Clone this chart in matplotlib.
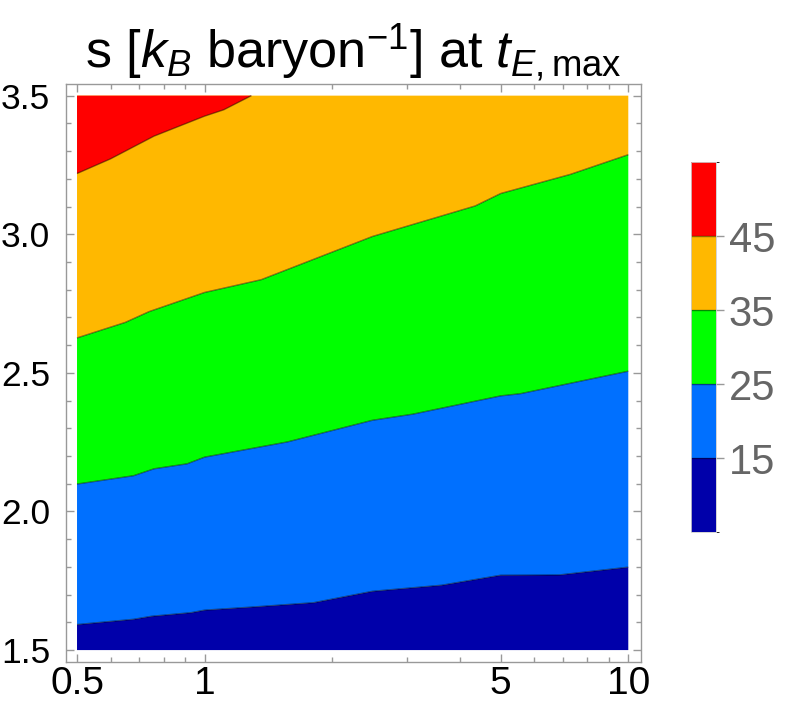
import numpy as np
import matplotlib
matplotlib.use('Agg')
import matplotlib.pyplot as plt
import matplotlib as mpl
from matplotlib.colors import ListedColormap, BoundaryNorm
from matplotlib.ticker import FixedLocator, NullFormatter, FixedFormatter

plt.rcParams['font.family'] = ['Liberation Sans', 'DejaVu Sans']
plt.rcParams['mathtext.fontset'] = 'custom'
plt.rcParams['mathtext.rm'] = 'Liberation Sans'
plt.rcParams['mathtext.it'] = 'Liberation Sans:italic'
plt.rcParams['mathtext.bf'] = 'Liberation Sans:bold'

# ---- data: contour boundaries ----
levels = [15, 25, 35, 45]
band_colors = ['#0000AA', '#0070FF', '#00FF00', '#FFB800', '#FF0000']
x_range = [0.5, 10]
y_range = [1.5, 3.5]

x15 = [0.5, 0.68, 0.75, 0.93, 1.0, 1.29, 1.81, 2.49, 3.63, 5.0, 6.87, 10]
y15 = [1.592, 1.611, 1.622, 1.635, 1.644, 1.655, 1.671, 1.712, 1.734, 1.770, 1.771, 1.799]
x25 = [0.5, 0.68, 0.76, 0.91, 1.0, 1.57, 2.49, 3.10, 5.0, 5.57, 10]
y25 = [2.099, 2.129, 2.154, 2.172, 2.196, 2.251, 2.329, 2.351, 2.417, 2.425, 2.506]
x35 = [0.5, 0.65, 0.74, 1.0, 1.36, 2.49, 4.35, 5.0, 7.3, 10]
y35 = [2.626, 2.682, 2.721, 2.790, 2.836, 2.992, 3.102, 3.147, 3.216, 3.287]
x45 = [0.5, 0.6, 0.76, 1.0, 1.11, 1.29]
y45 = [3.219, 3.272, 3.354, 3.426, 3.449, 3.5]

x_major = [0.5, 1, 5, 10]
x_major_labels = ['0.5', '1', '5', '10']
x_minor = [0.6, 0.7, 0.8, 0.9, 2, 3, 4, 6, 7, 8, 9]
y_major = [1.5, 2.0, 2.5, 3.0, 3.5]
y_major_labels = ['1.5', '2.0', '2.5', '3.0', '3.5']
y_minor = [1.6, 1.7, 1.8, 1.9, 2.1, 2.2, 2.3, 2.4, 2.6, 2.7, 2.8, 2.9,
           3.1, 3.2, 3.3, 3.4]

title = r's [$k_B$ baryon$^{-1}$] at $t_{E,\mathrm{max}}$'

# ---- figure ----
fig = plt.figure(figsize=(7.89, 7.18), dpi=100)
ax = fig.add_axes([66/789, 56/718, 575/789, 578/718])
ax.set_xscale('log')

x0, x1 = x_range
y0, y1 = y_range
xs = [np.array(v) for v in (x15, x25, x35)]
ys = [np.array(v) for v in (y15, y25, y35)]

ax.fill(np.concatenate([[x0, x1], xs[0][::-1]]),
        np.concatenate([[y0, y0], ys[0][::-1]]),
        color=band_colors[0], lw=0, zorder=1)
for i in range(2):
    ax.fill(np.concatenate([xs[i], xs[i+1][::-1]]),
            np.concatenate([ys[i], ys[i+1][::-1]]),
            color=band_colors[i+1], lw=0, zorder=1)
ax.fill(np.concatenate([xs[2], [x1, x0]]),
        np.concatenate([ys[2], [y1, y1]]),
        color=band_colors[3], lw=0, zorder=1)
ax.fill(np.concatenate([x45, [x0]]), np.concatenate([y45, [y1]]),
        color=band_colors[4], lw=0, zorder=2)

for xx, yy in zip((x15, x25, x35, x45), (y15, y25, y35, y45)):
    ax.plot(xx, yy, color='black', alpha=0.45, lw=1.0, zorder=3,
            solid_capstyle='butt')

ax.set_xlim(x0 * 10**-0.026, x1 * 10**0.03)
ax.set_ylim(y0 - 0.043, y1 + 0.042)

ax.xaxis.set_major_locator(FixedLocator(x_major))
ax.xaxis.set_major_formatter(FixedFormatter(x_major_labels))
ax.xaxis.set_minor_locator(FixedLocator(x_minor))
ax.xaxis.set_minor_formatter(NullFormatter())
ax.yaxis.set_major_locator(FixedLocator(y_major))
ax.yaxis.set_major_formatter(FixedFormatter(y_major_labels))
ax.yaxis.set_minor_locator(FixedLocator(y_minor))
ax.yaxis.set_minor_formatter(NullFormatter())

ax.tick_params(which='both', direction='in', top=True, right=True,
               color='#999999', width=1.0)
ax.tick_params(which='major', length=5.5)
ax.tick_params(which='minor', length=3.5)
ax.tick_params(axis='x', which='major', labelsize=28, pad=3)
ax.tick_params(axis='y', which='major', labelsize=25.5, pad=11.5)
for s in ax.spines.values():
    s.set_color('#999999')
    s.set_linewidth(1.0)

ax.set_title(title, fontsize=37.5, pad=12)

# ---- colorbar ----
cax = fig.add_axes([691/789, 186/718, 25/789, 370/718])
bounds = [5] + levels + [55]
cmap = ListedColormap(band_colors)
norm = BoundaryNorm(bounds, cmap.N)
sm = mpl.cm.ScalarMappable(norm=norm, cmap=cmap)
cb = fig.colorbar(sm, cax=cax, ticks=levels, drawedges=True)
cb.dividers.set_color('black')
cb.dividers.set_alpha(0.45)
cb.dividers.set_linewidth(1.0)
cb.outline.set_edgecolor('#cccccc')
cb.outline.set_linewidth(0.6)
cax.tick_params(direction='out', length=6, width=1.0, color='#999999',
                labelsize=30, labelcolor='#666666', pad=3)

fig.savefig('out.png', dpi=100)
